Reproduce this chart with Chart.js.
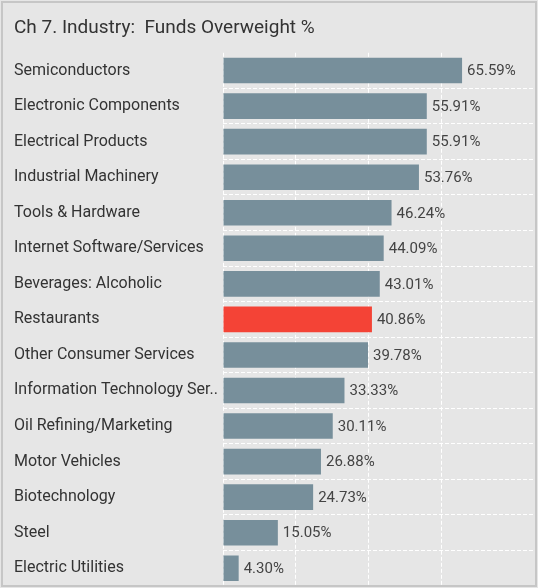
<!DOCTYPE html>
<html>
<head>
<meta charset="utf-8">
<script src="https://cdn.jsdelivr.net/npm/chart.js@4/dist/chart.umd.min.js"></script>
<style>
  html, body { margin: 0; padding: 0; background: #e6e6e6; }
  #wrap { width: 538px; height: 588px; position: relative; }
</style>
</head>
<body>
<div id="wrap"><canvas id="c" width="538" height="588"></canvas></div>
<script>
const industries = [
  'Semiconductors', 'Electronic Components', 'Electrical Products', 'Industrial Machinery',
  'Tools & Hardware', 'Internet Software/Services', 'Beverages: Alcoholic', 'Restaurants',
  'Other Consumer Services', 'Information Technology Ser..', 'Oil Refining/Marketing',
  'Motor Vehicles', 'Biotechnology', 'Steel', 'Electric Utilities'
];
const overweightPct = [
  65.59, 55.91, 55.91, 53.76, 46.24, 44.09, 43.01, 40.86,
  39.78, 33.33, 30.11, 26.88, 24.73, 15.05, 4.30
];
const highlighted = 'Restaurants';

const FONT = 'Roboto, "Open Sans", sans-serif';

// Panel background and frame
const panelPlugin = {
  id: 'panel',
  beforeDraw(chart) {
    const { ctx, width, height } = chart;
    ctx.save();
    ctx.fillStyle = '#e6e6e6';
    ctx.fillRect(0, 0, width, height);
    ctx.restore();
  },
  afterDraw(chart) {
    const { ctx, width, height } = chart;
    ctx.save();
    ctx.strokeStyle = '#c6c6c6';
    ctx.lineWidth = 2;
    ctx.strokeRect(2, 2, width - 4, height - 4);
    ctx.restore();
  }
};

// Percentage text at the end of each bar
const valueLabels = {
  id: 'valueLabels',
  afterDatasetsDraw(chart) {
    const { ctx } = chart;
    const meta = chart.getDatasetMeta(0);
    const data = chart.data.datasets[0].data;
    ctx.save();
    ctx.font = '15px ' + FONT;
    ctx.fillStyle = '#444';
    ctx.textAlign = 'left';
    ctx.textBaseline = 'middle';
    meta.data.forEach((bar, i) => {
      ctx.fillText(data[i].toFixed(2) + '%', bar.x + 5, bar.y + 1);
    });
    ctx.restore();
  }
};

new Chart(document.getElementById('c'), {
  type: 'bar',
  data: {
    labels: industries,
    datasets: [{
      data: overweightPct,
      backgroundColor: industries.map(n => n === highlighted ? '#f44336' : '#778f9b'),
      borderWidth: 0
    }]
  },
  options: {
    indexAxis: 'y',
    responsive: false,
    animation: false,
    layout: { padding: { left: 14, top: 10, right: 3, bottom: 2 } },
    plugins: {
      legend: { display: false },
      tooltip: { enabled: false },
      title: {
        display: true,
        text: 'Ch 7. Industry:  Funds Overweight %',
        align: 'start',
        color: '#333',
        font: { family: FONT, size: 19, weight: 'normal' },
        padding: { top: 7, bottom: 13 }
      }
    },
    scales: {
      x: {
        min: 0,
        max: 85.6,
        ticks: { display: false, stepSize: 20 },
        afterBuildTicks(scale) {
          scale.ticks = scale.ticks.filter(t => t.value % 20 === 0);
        },
        afterFit(scale) {
          scale.height = 0;
          scale.paddingLeft = 0;
          scale.paddingRight = 0;
        },
        grid: {
          color: '#ffffff',
          lineWidth: 1,
          drawTicks: false
        },
        border: { display: false, dash: [4, 2] }
      },
      y: {
        ticks: {
          crossAlign: 'far',
          color: '#333',
          font: { family: FONT, size: 16 },
          padding: 0
        },
        afterFit(scale) {
          scale.width = 209;
          scale.paddingTop = 0;
          scale.paddingBottom = 0;
        },
        grid: {
          color: (c) => c.index === 0 ? 'rgba(0,0,0,0)' : '#ffffff',
          lineWidth: 1,
          drawTicks: false
        },
        border: { display: false, dash: [4, 2] }
      }
    }
  },
  plugins: [panelPlugin, valueLabels]
});
</script>
</body>
</html>
